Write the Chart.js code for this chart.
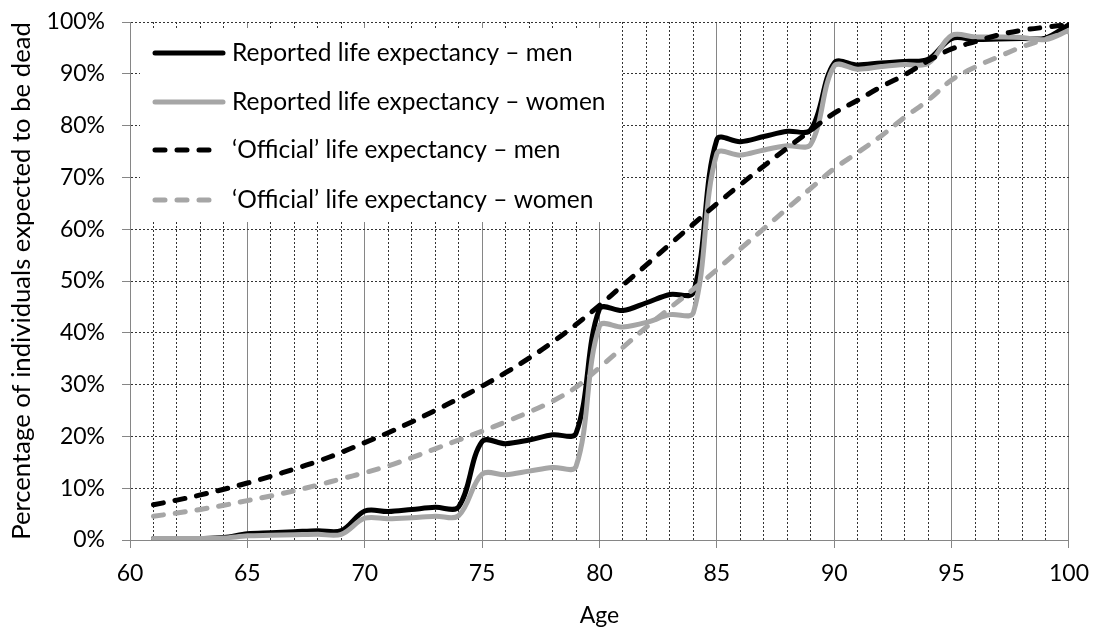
<!DOCTYPE html>
<html>
<head>
<meta charset="utf-8">
<script src="https://cdn.jsdelivr.net/npm/chart.js@4.4.1/dist/chart.umd.min.js"></script>
<style>
  html, body { margin: 0; padding: 0; background: #fff; }
  #chart { display: block; }
</style>
</head>
<body>
<canvas id="chart" width="1101" height="630"></canvas>
<script>
// ages on the x axis
const ages = [61, 62, 63, 64, 65, 66, 67, 68, 69, 70,
  71, 72, 73, 74, 75, 76, 77, 78, 79, 80,
  81, 82, 83, 84, 85, 86, 87, 88, 89, 90,
  91, 92, 93, 94, 95, 96, 97, 98, 99, 100];

// % expected to be dead by that age
const reportedMen = [0.3, 0.3, 0.3, 0.5, 1.2, 1.4, 1.6, 1.8, 1.8, 5.6,
  5.5, 5.9, 6.3, 6.4, 19.0, 18.6, 19.3, 20.3, 20.6, 44.6,
  44.3, 45.8, 47.4, 47.8, 77.3, 76.9, 77.9, 78.9, 79.2, 92.1,
  91.7, 92.1, 92.4, 92.8, 96.8, 96.6, 96.7, 96.8, 96.9, 99.5];

const reportedWomen = [0.3, 0.3, 0.3, 0.4, 0.8, 0.9, 1.0, 1.1, 1.1, 4.2,
  4.1, 4.3, 4.6, 4.7, 12.7, 12.6, 13.3, 14.0, 14.2, 41.3,
  41.1, 42.0, 43.5, 43.9, 74.6, 74.3, 75.3, 76.1, 76.4, 91.5,
  90.9, 91.4, 91.8, 92.0, 97.4, 97.1, 97.1, 97.0, 96.6, 98.4];

const officialMen = [6.8, 7.7, 8.7, 9.8, 11.0, 12.3, 13.7, 15.2, 16.9, 18.8,
  20.7, 22.8, 25.0, 27.3, 29.7, 32.3, 35.1, 38.2, 41.6, 45.3,
  49.2, 53.1, 57.1, 61.0, 64.9, 68.6, 72.2, 75.7, 79.1, 82.4,
  84.9, 87.5, 89.8, 92.5, 94.8, 96.2, 97.5, 98.4, 99.0, 99.5];

const officialWomen = [4.6, 5.2, 5.9, 6.7, 7.6, 8.5, 9.5, 10.6, 11.8, 13.0,
  14.3, 15.9, 17.6, 19.3, 21.0, 22.8, 24.7, 26.8, 29.5, 33.3,
  37.2, 41.1, 44.8, 48.4, 52.2, 56.2, 60.1, 64.0, 67.9, 71.7,
  74.8, 78.0, 81.6, 84.9, 88.8, 91.3, 93.3, 95.2, 96.7, 98.2];

const seriesNames = [
  "Reported life expectancy \u2013 men",
  "Reported life expectancy \u2013 women",
  "\u2018Official\u2019 life expectancy \u2013 men",
  "\u2018Official\u2019 life expectancy \u2013 women",
];

const BLACK = "#000000";
const GREY = "#a6a6a6";
const AXIS = "#868686";
const FONT = "Lato, 'Open Sans', sans-serif";
const DASH = [10, 12];

function points(values) {
  return ages.map((a, i) => ({ x: a, y: values[i] }));
}

function series(label, values, color, dashed, order) {
  return {
    label: label,
    data: points(values),
    borderColor: color,
    backgroundColor: color,
    borderWidth: 5,
    borderDash: dashed ? DASH : [],
    borderCapStyle: "round",
    borderJoinStyle: "round",
    pointRadius: 0,
    tension: 0.35,
    fill: false,
    order: order,
  };
}

// legend drawn inside the plot, on a white box
const innerLegend = {
  id: "innerLegend",
  beforeDatasetsDraw(chart) {
    const ctx = chart.ctx;
    const area = chart.chartArea;
    ctx.save();
    ctx.fillStyle = "#ffffff";
    ctx.fillRect(area.left + 10, area.top + 6, 482, 194);

    const rows = [53, 102, 150, 200];
    chart.data.datasets.forEach((ds, i) => {
      const y = rows[i];
      ctx.strokeStyle = ds.borderColor;
      ctx.lineWidth = 5;
      ctx.lineCap = "round";
      ctx.setLineDash(ds.borderDash);
      ctx.beginPath();
      ctx.moveTo(155, y);
      ctx.lineTo(ds.borderDash.length ? 209 : 223, y);
      ctx.stroke();

      ctx.setLineDash([]);
      ctx.fillStyle = "#000";
      ctx.font = "24.5px " + FONT;
      ctx.textBaseline = "middle";
      ctx.textAlign = "left";
      ctx.fillText(ds.label, 232, y);
    });
    ctx.restore();
  },
};

const isMajor = (ctx) => ctx.tick && ctx.tick.value % 5 === 0;

new Chart(document.getElementById("chart"), {
  type: "line",
  data: {
    datasets: [
      series(seriesNames[0], reportedMen, BLACK, false, 4),
      series(seriesNames[1], reportedWomen, GREY, false, 3),
      series(seriesNames[2], officialMen, BLACK, true, 2),
      series(seriesNames[3], officialWomen, GREY, true, 1),
    ],
  },
  options: {
    responsive: false,
    animation: false,
    layout: { padding: { top: 22, right: 28, left: 0, bottom: 0 } },
    plugins: {
      legend: { display: false },
      tooltip: { enabled: false },
    },
    scales: {
      x: {
        type: "linear",
        min: 60,
        max: 100,
        afterFit: (scale) => { scale.height = 90; },
        ticks: {
          stepSize: 1,
          maxTicksLimit: 60,
          autoSkip: false,
          maxRotation: 0,
          padding: 12,
          color: "#000",
          font: { family: FONT, size: 23 },
          callback: (v) => (v % 5 === 0 ? v : ""),
        },
        grid: {
          color: (ctx) => (isMajor(ctx) ? AXIS : "#333333"),
          lineWidth: 1,
          tickLength: 8,
          tickColor: AXIS,
          tickWidth: (ctx) => (isMajor(ctx) ? 1 : 0),
        },
        border: {
          color: AXIS,
          width: 1,
          dash: (ctx) => (ctx.tick && ctx.tick.value % 5 !== 0 ? [2, 2] : []),
        },
        title: {
          display: true,
          text: "Age",
          color: "#000",
          font: { family: FONT, size: 23 },
          padding: { top: 7, bottom: 1 },
        },
      },
      y: {
        min: 0,
        max: 100,
        afterFit: (scale) => {
          scale.width = 130;
          // keep the tick padding from pushing the plot down
          scale.paddingTop = 0;
          scale.paddingBottom = 0;
        },
        ticks: {
          stepSize: 10,
          maxTicksLimit: 20,
          padding: 17,
          color: "#000",
          font: { family: FONT, size: 23 },
          callback: (v) => v + "%",
        },
        grid: {
          color: "#333333",
          lineWidth: 1,
          tickLength: 8,
          tickColor: AXIS,
        },
        border: {
          color: AXIS,
          width: 1,
          dash: (ctx) => (ctx.tick ? [2, 2] : []),
        },
        title: {
          display: true,
          text: "Percentage of individuals expected to be dead",
          color: "#000",
          font: { family: FONT, size: 25.7 },
          padding: { top: 6, bottom: 4 },
        },
      },
    },
  },
  plugins: [innerLegend],
});
</script>
</body>
</html>
